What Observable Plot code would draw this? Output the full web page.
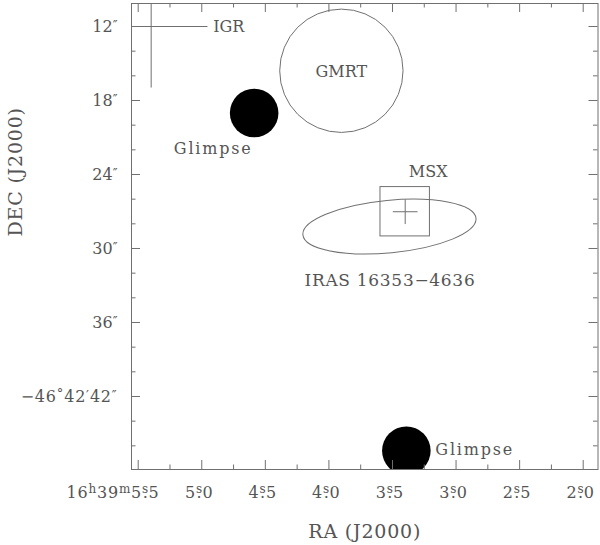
<!DOCTYPE html>
<html><head><meta charset="utf-8">
<script src="https://cdn.jsdelivr.net/npm/d3@7"></script>
<script src="https://cdn.jsdelivr.net/npm/@observablehq/plot@0.6"></script>
<style>body{margin:0;background:#fff}</style>
</head><body><div id="chart"></div>
<script>
// ---- Axis ticks (RA seconds of 16h39m, Dec arcseconds of -46°42') ----
const raMajorTicks = [5.5, 5.0, 4.5, 4.0, 3.5, 3.0, 2.5, 2.0];
const raMinorTicks = [5.25, 4.75, 4.25, 3.75, 3.25, 2.75, 2.25];
const raTickLabels = ["16ʰ39ᵐ5ˢ.5", "5ˢ.0", "4ˢ.5", "4ˢ.0", "3ˢ.5", "3ˢ.0", "2ˢ.5", "2ˢ.0"];
const decMajorTicks = [12, 18, 24, 30, 36, 42];
const decMinorTicks = [14, 16, 20, 22, 26, 28, 32, 34, 38, 40, 44, 46];
const decTickLabels = ["12″", "18″", "24″", "30″", "36″", "−46°42′42″"];

// ---- Sources ----
const igr = [{name: "IGR", ra: 5.398, dec: 12.0, raErr: 0.443, decErr: 4.95}];
const gmrt = [{name: "GMRT", ra: 3.902, dec: 15.59, radius: 5.0}];
const glimpse = [
  {name: "Glimpse", ra: 4.588, dec: 19.01, radius: 1.97},
  {name: "Glimpse", ra: 3.391, dec: 46.4, radius: 1.97}
];
const msx = [{name: "MSX", ra: 3.400, dec: 27.02, halfBox: 2.0, cross: 1.0}];
const iras = [{name: "IRAS 16353−4636", ra: 3.520, dec: 28.26, semiMajor: 7.05, semiMinor: 2.13, pa: 95.5}];

// ---- Layout ----
const W = 600, H = 545, mL = 131, mR = 2.5, mT = 3, mB = 76;
const xDomain = [5.5527, 1.8836];
const yDomain = [47.92, 10.135];
const innerW = W - mL - mR, innerH = H - mT - mB;
const pxPerArcsec = innerH / (yDomain[0] - yDomain[1]);
const arcsecPerSec = 15 * Math.cos((46 + 42.45 / 60) * Math.PI / 180);
const lineColor = "#707070", textColor = "#555555";
const font = "DejaVu Serif";

const raTicks = raMajorTicks.map((v, i) => ({v, label: raTickLabels[i]}));
const decTicks = decMajorTicks.map((v, i) => ({v, label: decTickLabels[i]}));

const txt = {fill: textColor, fontFamily: font, fontSize: 16};

const ellipseMark = (index, scales) => {
  const g = d3.create("svg:g");
  for (const d of iras) {
    const cx = scales.x(d.ra), cy = scales.y(d.dec);
    const a = Math.abs(scales.y(d.dec + d.semiMajor) - cy);
    const b = Math.abs(scales.y(d.dec + d.semiMinor) - cy);
    g.append("ellipse").attr("cx", 0).attr("cy", 0).attr("rx", a).attr("ry", b)
      .attr("transform", `translate(${cx},${cy}) rotate(${-(90 + d.pa)})`)
      .attr("fill", "none").attr("stroke", lineColor).attr("stroke-width", 1);
  }
  return g.node();
};

const chart = Plot.plot({
  width: W, height: H,
  marginLeft: mL, marginRight: mR, marginTop: mT, marginBottom: mB,
  style: {fontFamily: font, background: "white"},
  x: {domain: xDomain, axis: null},
  y: {domain: yDomain, axis: null},
  r: {type: "linear", domain: [0, 1], range: [0, pxPerArcsec]},
  marks: [
    // sources
    Plot.dot(glimpse, {x: "ra", y: "dec", r: "radius", fill: "black", stroke: "none", clip: true}),
    Plot.dot(gmrt, {x: "ra", y: "dec", r: "radius", fill: "none", stroke: lineColor, strokeWidth: 1}),
    Plot.link(igr, {x1: d => d.ra + d.raErr, x2: d => d.ra - d.raErr, y1: "dec", y2: "dec", stroke: lineColor, clip: true}),
    Plot.link(igr, {x1: "ra", x2: "ra", y1: d => d.dec - d.decErr, y2: d => d.dec + d.decErr, stroke: lineColor, clip: true}),
    Plot.rect(msx, {x1: d => d.ra + d.halfBox / arcsecPerSec, x2: d => d.ra - d.halfBox / arcsecPerSec,
      y1: d => d.dec - d.halfBox, y2: d => d.dec + d.halfBox, fill: "none", stroke: lineColor}),
    Plot.link(msx, {x1: d => d.ra + d.cross / arcsecPerSec, x2: d => d.ra - d.cross / arcsecPerSec, y1: "dec", y2: "dec", stroke: lineColor}),
    Plot.link(msx, {x1: "ra", x2: "ra", y1: d => d.dec - d.cross, y2: d => d.dec + d.cross, stroke: lineColor}),
    ellipseMark,
    // source labels
    Plot.text(igr, {x: "ra", y: "dec", text: "name", textAnchor: "start", dx: 62, dy: 0.5, ...txt}),
    Plot.text(gmrt, {x: "ra", y: "dec", text: "name", dy: 1, ...txt}),
    Plot.text([glimpse[0]], {x: "ra", y: "dec", text: "name", dx: -41, dy: 36, ...txt}),
    Plot.text([glimpse[1]], {x: "ra", y: "dec", text: "name", textAnchor: "start", dx: 29, dy: -0.5, ...txt}),
    Plot.text(msx, {x: "ra", y: "dec", text: "name", dx: 23, dy: -40, ...txt}),
    Plot.text(iras, {x: "ra", y: "dec", text: "name", dx: 0, dy: 53.5, ...txt, fontSize: 17}),
    // frame and ticks
    Plot.frame({stroke: lineColor}),
    Plot.tickX(raMajorTicks, {x: d => d, stroke: lineColor, insetTop: innerH - 9}),
    Plot.tickX(raMajorTicks, {x: d => d, stroke: lineColor, insetBottom: innerH - 9}),
    Plot.tickX(raMinorTicks, {x: d => d, stroke: lineColor, insetTop: innerH - 4.5}),
    Plot.tickX(raMinorTicks, {x: d => d, stroke: lineColor, insetBottom: innerH - 4.5}),
    Plot.tickY(decMajorTicks, {y: d => d, stroke: lineColor, insetRight: innerW - 9}),
    Plot.tickY(decMajorTicks, {y: d => d, stroke: lineColor, insetLeft: innerW - 9}),
    Plot.tickY(decMinorTicks, {y: d => d, stroke: lineColor, insetRight: innerW - 4.5}),
    Plot.tickY(decMinorTicks, {y: d => d, stroke: lineColor, insetLeft: innerW - 4.5}),
    // tick labels
    Plot.text(raTicks.slice(1), {x: "v", text: "label", frameAnchor: "bottom", lineAnchor: "bottom", dy: 28, dx: -2.6, ...txt}),
    Plot.text(raTicks.slice(0, 1), {x: "v", text: "label", frameAnchor: "bottom", lineAnchor: "bottom", textAnchor: "end", dy: 28, dx: 21.3, ...txt}),
    Plot.text(decTicks, {y: "v", text: "label", frameAnchor: "left", textAnchor: "end", dx: -14, ...txt}),
    // axis titles
    Plot.text(["RA (J2000)"], {text: d => d, frameAnchor: "bottom", lineAnchor: "bottom", dy: 68, ...txt, fontSize: 19}),
    Plot.text(["DEC (J2000)"], {text: d => d, frameAnchor: "left", lineAnchor: "bottom", rotate: -90, dx: -110, ...txt, fontSize: 19})
  ]
});

// superscripts for sexagesimal labels
const NS = "http://www.w3.org/2000/svg";
const supMap = {"ʰ": "h", "ᵐ": "m", "ˢ": "s"};
chart.querySelectorAll("text").forEach(t => {
  const s = t.textContent;
  if (s === "Glimpse") t.setAttribute("letter-spacing", "1.8");
  if (s.startsWith("IRAS")) t.setAttribute("letter-spacing", "0.7");
  if (s.includes("J2000")) t.setAttribute("letter-spacing", "0.8");
  if (!/[ʰᵐˢ°′″]/.test(s)) return;
  if (/[ʰᵐˢ]/.test(s) || s.includes("°")) t.setAttribute("letter-spacing", "0.8");
  t.textContent = "";
  const chars = [...s];
  let shift = 0;
  chars.forEach((c, i) => {
    const ts = document.createElementNS(NS, "tspan");
    let target = 0, size = null, dx = null, out = c;
    if (supMap[c]) { out = supMap[c]; target = -5; size = 12; }
    else if (c === "°") { target = -4; size = 13; }
    else if (c === "′" || c === "″") { target = -2; size = 13; }
    else if (c === "." && chars[i - 1] === "ˢ") { dx = -6.4; }
    if (target - shift !== 0) ts.setAttribute("dy", target - shift);
    shift = target;
    if (size) ts.setAttribute("font-size", size);
    if (dx !== null) ts.setAttribute("dx", dx);
    ts.textContent = out;
    t.appendChild(ts);
  });
});

document.getElementById("chart").appendChild(chart);
</script>
</body></html>
